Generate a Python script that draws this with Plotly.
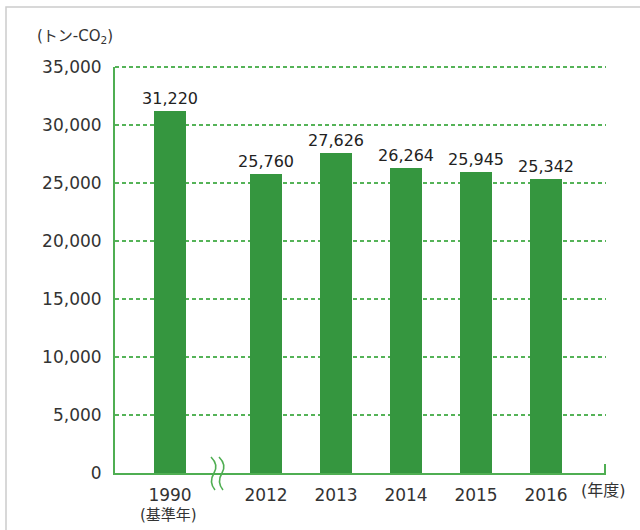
import plotly.graph_objects as go

years = ["1990", "2012", "2013", "2014", "2015", "2016"]
emissions = [31220, 25760, 27626, 26264, 25945, 25342]
y_ticks = [0, 5000, 10000, 15000, 20000, 25000, 30000, 35000]
unit_label = "(トン-CO<sub>2</sub>)"
base_note = "(基準年)"
year_unit = "(年度)"

# layout in pixels
W_FIG, H_FIG = 640, 530
L, R, T, B = 115, 606, 67, 473
BREAK_GAP = 96 / 70  # distance (in bar-spacing units) from 1990 to 2012

x_pos = [0.0] + [BREAK_GAP + i for i in range(len(years) - 1)]

BAR = "#35963f"
AXIS = "#4fae52"
GRID = "#55b358"
FONT = "DejaVu Sans, Noto Sans CJK JP, sans-serif"


def px_x(p):
    return (p - L) / (R - L)


def px_y(p):
    return (B - p) / (B - T)


fig = go.Figure()
fig.add_trace(go.Bar(
    x=x_pos, y=emissions,
    width=0.46,
    marker=dict(color=BAR, line=dict(width=0)),
    text=[f"{v:,}" for v in emissions],
    textposition="outside",
    constraintext="none",
    textfont=dict(size=16, color="#222222", family=FONT),
    cliponaxis=False,
    hoverinfo="skip",
))

fig.update_layout(
    width=W_FIG, height=H_FIG,
    margin=dict(l=L, r=W_FIG - R, t=T, b=H_FIG - B, pad=0),
    paper_bgcolor="white", plot_bgcolor="white",
    showlegend=False,
    font=dict(family=FONT, color="#333333"),
    bargap=0,
)

fig.update_xaxes(
    range=[-(170 - L) / 70, (R - 170) / 70],
    tickvals=x_pos, ticktext=years,
    tickfont=dict(size=17, color="#333333", family=FONT),
    showgrid=False, zeroline=False,
    showline=True, linecolor=AXIS, linewidth=2,
    ticks="", ticklabelstandoff=6,
    fixedrange=True,
)
fig.update_yaxes(
    range=[0, y_ticks[-1]],
    tickvals=y_ticks, ticktext=[f"{v:,}" for v in y_ticks],
    tickfont=dict(size=17, color="#333333", family=FONT),
    showgrid=True, gridcolor=GRID, gridwidth=2, griddash="4px,3px",
    zeroline=False,
    showline=True, linecolor=AXIS, linewidth=2,
    ticks="", ticklabelstandoff=8,
    fixedrange=True,
)

shapes = []
# top gridline (at the edge of the plot area, paper-referenced so not clipped)
shapes.append(dict(type="line", xref="paper", yref="paper",
                   x0=0, x1=1, y0=1, y1=1,
                   line=dict(color=GRID, width=2, dash="4px,3px")))
# right-end tick of x axis
shapes.append(dict(type="line", xref="paper", yref="paper",
                   x0=px_x(605), x1=px_x(605), y0=px_y(473), y1=px_y(464),
                   line=dict(color=AXIS, width=2)))
# axis break squiggles (paper-referenced so they are not clipped)
mid_px = 170 + 96 / 2
for dx in (-4, 4):
    shapes.append(dict(
        type="path", xref="paper", yref="paper",
        xsizemode="pixel", ysizemode="pixel",
        xanchor=px_x(mid_px), yanchor=px_y(473),
        path=(f"M {dx-3},16 C {dx+3},10 {dx+3},5 {dx},0 "
              f"C {dx-3},-5 {dx-4},-11 {dx+1},-17"),
        line=dict(color=AXIS, width=1.6),
    ))
# outer frame
shapes.append(dict(type="rect", xref="paper", yref="paper",
                   x0=px_x(6), x1=px_x(660), y0=px_y(7), y1=px_y(560),
                   line=dict(color="#cccccc", width=1.5), layer="below"))
fig.update_layout(shapes=shapes)

annotations = [
    dict(text=unit_label, xref="paper", yref="paper",
         x=px_x(35), y=px_y(37), xanchor="left", yanchor="middle",
         showarrow=False, font=dict(size=15, color="#333333", family=FONT)),
    dict(text=base_note, xref="paper", yref="paper",
         x=px_x(168), y=px_y(515), xanchor="center", yanchor="middle",
         showarrow=False, font=dict(size=15, color="#333333", family=FONT)),
    dict(text=year_unit, xref="paper", yref="paper",
         x=px_x(579), y=px_y(490), xanchor="left", yanchor="middle",
         showarrow=False, font=dict(size=16, color="#333333", family=FONT)),
]
fig.update_layout(annotations=annotations)

fig.write_html(
    "out.html",
    config={"displayModeBar": False},
    post_script="document.body.style.margin='0';document.body.style.overflow='hidden';",
)
